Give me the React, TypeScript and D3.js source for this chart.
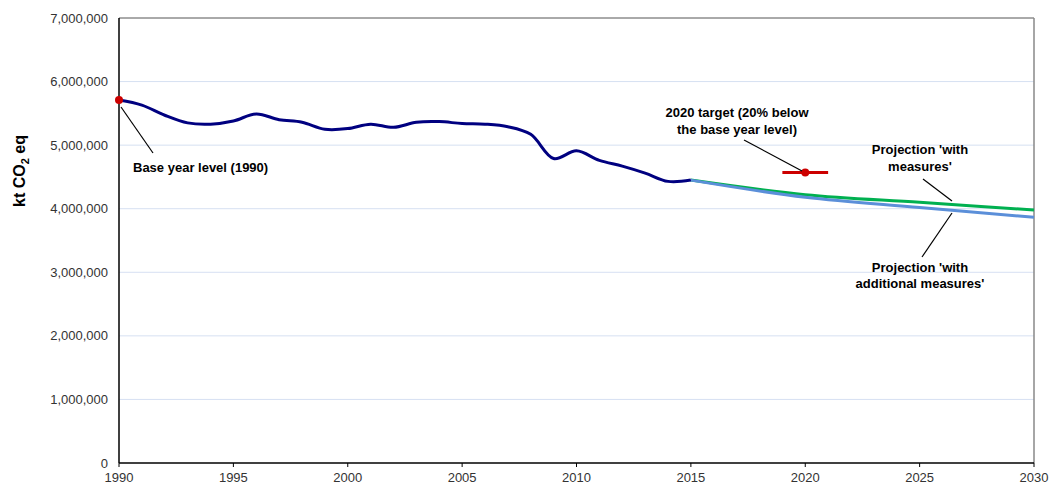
import React from 'react';
import * as d3 from 'd3';

// historical emissions (kt CO2 eq)
const histYears = d3.range(1990, 2016);
const histValues = [
  5710000, 5630000, 5470000, 5350000, 5330000, 5380000, 5490000, 5400000, 5360000, 5250000,
  5260000, 5330000, 5280000, 5360000, 5370000, 5340000, 5330000, 5290000, 5170000, 4790000,
  4910000, 4760000, 4670000, 4560000, 4430000, 4450000,
];

// projections
const projYears = [2015, 2020, 2025, 2030];
const withMeasures = [4450000, 4220000, 4100000, 3980000];
const withAdditional = [4450000, 4180000, 4020000, 3865000];

const baseYear = 1990;
const baseValue = 5710000;
const targetYear = 2020;
const targetValue = 4568000;

const yTicks = [0, 1000000, 2000000, 3000000, 4000000, 5000000, 6000000, 7000000];
const xTicks = [1990, 1995, 2000, 2005, 2010, 2015, 2020, 2025, 2030];

const W = 1049;
const H = 483;
const m = { left: 119, right: 15, top: 18, bottom: 20 };

const FONT = "'Liberation Sans', Arial, sans-serif";

export default function App() {
  const x = d3.scaleLinear().domain([1990, 2030]).range([m.left, W - m.right]);
  const y = d3.scaleLinear().domain([0, 7000000]).range([H - m.bottom, m.top]);
  const fmt = d3.format(',');

  const line = d3
    .line<number>()
    .x((_, i) => x(histYears[i]))
    .y((d) => y(d))
    .curve(d3.curveCatmullRom.alpha(0.5));

  const projLine = d3
    .line<number>()
    .x((_, i) => x(projYears[i]))
    .y((d) => y(d))
    .curve(d3.curveCatmullRom.alpha(0.5));

  const x0 = x.range()[0];
  const x1 = x.range()[1];
  const y0 = y.range()[0];
  const y1 = y.range()[1];

  return (
    <svg
      width={W}
      height={H}
      style={{ position: 'absolute', left: 0, top: 0, background: '#fff' }}
      fontFamily={FONT}
    >
      {/* gridlines */}
      {yTicks.slice(1, -1).map((t) => (
        <line key={t} x1={x0} x2={x1} y1={y(t)} y2={y(t)} stroke="#d6e0f2" strokeWidth={1} />
      ))}
      {/* frame */}
      <line x1={x0} x2={x1} y1={y1} y2={y1} stroke="#555" strokeWidth={1} />
      <line x1={x1} x2={x1} y1={y1} y2={y0} stroke="#888" strokeWidth={1.5} />

      {/* y labels */}
      {yTicks.map((t) => (
        <text key={t} x={108} y={y(t)} dy="0.35em" textAnchor="end" fontSize={13} fill="#333">
          {fmt(t)}
        </text>
      ))}
      <text
        transform={`translate(25, 171) rotate(-90)`}
        textAnchor="middle"
        fontSize={16}
        fontWeight="bold"
        fill="#000"
      >
        kt CO<tspan fontSize={11} dy={4}>2</tspan>
        <tspan dy={-4}> eq</tspan>
      </text>

      {/* x axis */}
      {xTicks.map((t) => (
        <g key={t}>
          <line x1={x(t)} x2={x(t)} y1={y0} y2={y0 + 4} stroke="#000" />
          <text x={x(t)} y={y0 + 19} textAnchor="middle" fontSize={13} fill="#333">
            {t}
          </text>
        </g>
      ))}

      {/* projections */}
      <path d={projLine(withMeasures) || ''} fill="none" stroke="#00b050" strokeWidth={3} />
      <path d={projLine(withAdditional) || ''} fill="none" stroke="#5b8fd9" strokeWidth={3} />

      {/* history */}
      <path d={line(histValues) || ''} fill="none" stroke="#000080" strokeWidth={3} />

      {/* axes lines */}
      <line x1={x0} x2={x0} y1={y1} y2={y0} stroke="#000" strokeWidth={1.5} />
      <line x1={x0} x2={x1} y1={y0} y2={y0} stroke="#000" strokeWidth={1.5} />

      {/* base year marker */}
      <circle cx={x(baseYear)} cy={y(baseValue)} r={4} fill="#cc0000" />
      <line x1={x0 + 2} y1={y(baseValue) + 7} x2={153} y2={153} stroke="#000" strokeWidth={1.2} />
      <text x={133} y={172} fontSize={13} fontWeight="bold" fill="#000">
        Base year level (1990)
      </text>

      {/* 2020 target */}
      <line
        x1={x(targetYear - 1)}
        x2={x(targetYear + 1)}
        y1={y(targetValue)}
        y2={y(targetValue)}
        stroke="#cc0000"
        strokeWidth={3}
      />
      <circle cx={x(targetYear)} cy={y(targetValue)} r={4} fill="#cc0000" />
      <line x1={744} y1={140} x2={802} y2={171} stroke="#000" strokeWidth={1.2} />
      <text x={737} y={117} textAnchor="middle" fontSize={13} fontWeight="bold" fill="#000">
        <tspan x={737}>2020 target (20% below</tspan>
        <tspan x={737} dy={17}>the base year level)</tspan>
      </text>

      {/* projection labels */}
      <line x1={923} y1={179} x2={952} y2={201} stroke="#000" strokeWidth={1.2} />
      <text x={920} y={154} textAnchor="middle" fontSize={13} fontWeight="bold" fill="#000">
        <tspan x={920}>Projection 'with</tspan>
        <tspan x={920} dy={17}>measures'</tspan>
      </text>
      <line x1={952} y1={213} x2={922} y2={257} stroke="#000" strokeWidth={1.2} />
      <text x={920} y={272} textAnchor="middle" fontSize={13} fontWeight="bold" fill="#000">
        <tspan x={920}>Projection 'with</tspan>
        <tspan x={920} dy={16}>additional measures'</tspan>
      </text>
    </svg>
  );
}
